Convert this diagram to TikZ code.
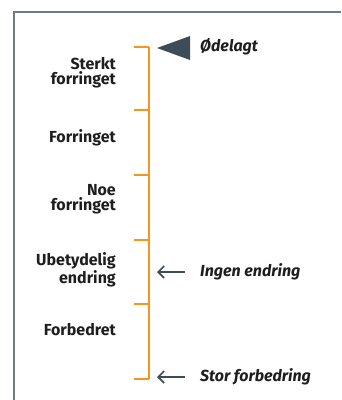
\documentclass[tikz,border=0pt]{standalone}
\usepackage{fontspec}
\setmainfont{Fira Sans}
\usetikzlibrary{arrows.meta}
\definecolor{scaleorange}{HTML}{F7941D}
\definecolor{framegray}{HTML}{6E7C87}
\definecolor{slate}{HTML}{3D4C56}
\definecolor{txt}{HTML}{1E1E1E}
\begin{document}
\begin{tikzpicture}[x=1pt,y=-1pt,
  lbl/.style={anchor=east,align=right,inner sep=0pt,font=\fontsize{16}{15.5}\selectfont\bfseries,text=txt},
  rlbl/.style={anchor=west,inner sep=0pt,font=\fontsize{16}{15.5}\selectfont\bfseries\itshape,text=txt},
  scl/.style={draw=scaleorange,line width=2.6pt},
  arr/.style={draw=slate,line width=1.8pt,-{Straight Barb[length=6pt,width=12pt,line width=1.6pt]}},
  frm/.style={draw=framegray,line width=2pt}]
\useasboundingbox (0,0) rectangle (341,400);
% frame
\draw[frm] (14,400) -- (14,12) -- (341,12);
% scale ticks
\coordinate (t0) at (149,47);
\coordinate (t1) at (149,110);
\coordinate (t2) at (149,175);
\coordinate (t3) at (149,240);
\coordinate (t4) at (149,304);
\coordinate (t5) at (149,379);
\draw[scl] (t0) -- (t5);
\foreach \i in {0,...,5} \draw[scl] (t\i) -- ++(-15,0);
% left labels
\node[lbl] (l1) at (116,72.5) {Sterkt\\forringet};
\node[lbl] (l2) at (116,138) {Forringet};
\node[lbl] (l3) at (116,199) {Noe\\forringet};
\node[lbl] (l4) at (116,270) {Ubetydelig\\endring};
\node[lbl] (l5) at (116,330) {Forbedret};
% right labels
\node[rlbl] (r1) at (200,47) {Ødelagt};
\node[rlbl] (r2) at (200,272) {Ingen endring};
\node[rlbl] (r3) at (200,377) {Stor forbedring};
\coordinate (p1) at (157,48);
\coordinate (p2) at (157,272);
\coordinate (p3) at (157,377);
\fill[slate] (p1) -- (190,36) -- (190,60) -- cycle;
\draw[arr,shorten <=15pt] (r2.west) -- (p2);
\draw[arr,shorten <=15pt] (r3.west) -- (p3);
\end{tikzpicture}
\end{document}
